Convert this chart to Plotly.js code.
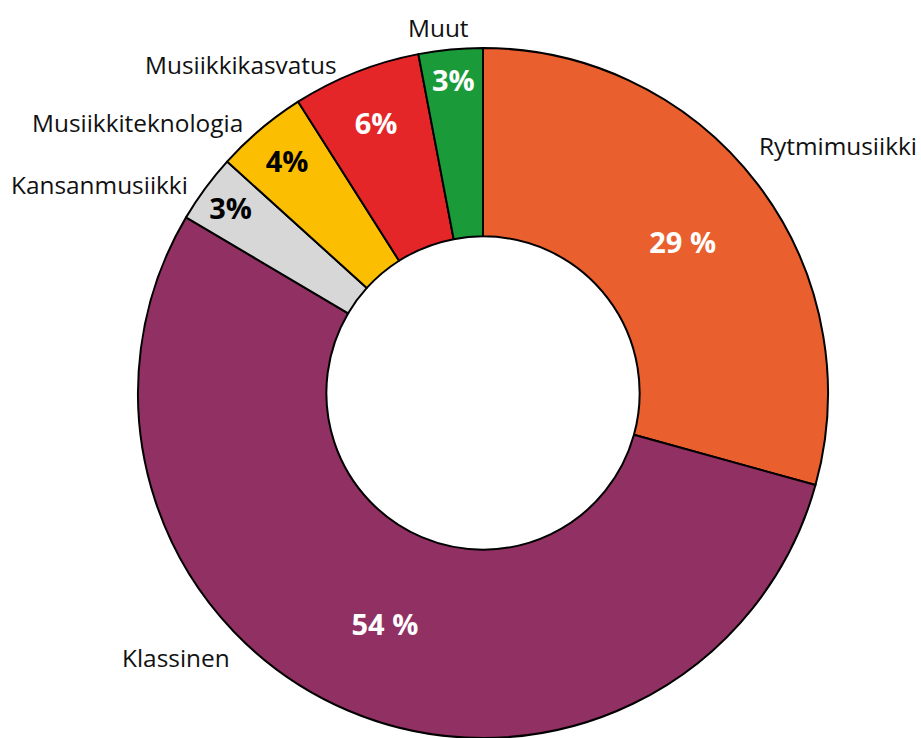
<!DOCTYPE html>
<html>
<head>
<meta charset="utf-8">
<script src="https://cdn.plot.ly/plotly-3.0.1.min.js"></script>
<style>
  html, body { margin: 0; padding: 0; background: #ffffff; }
  #chart { width: 921px; height: 738px; }
</style>
</head>
<body>
<div id="chart"></div>
<script>
// Categories (clockwise from 12 o'clock)
const categories = ["Rytmimusiikki", "Klassinen", "Kansanmusiikki", "Musiikkiteknologia", "Musiikkikasvatus", "Muut"];
// Shares (%)
const shares = [29.3, 54.2, 3.2, 4.3, 6.0, 3.0];
// Printed percentage labels
const percentLabels = ["29 %", "54 %", "3%", "4%", "6%", "3%"];
// Slice colours
const sliceColors = ["#E95F2E", "#913063", "#D7D7D7", "#FCBE00", "#E42629", "#1B9A3A"];
const labelTextColors = ["#ffffff", "#ffffff", "#000000", "#000000", "#ffffff", "#ffffff"];

// Category label placement (pixel centres in the 921x738 page)
const labelX = [838, 175.5, 99, 137.5, 240.5, 438];
const labelY = [145, 657, 184, 122, 65, 27];

const W = 921, H = 738;

const trace = {
  type: "pie",
  labels: categories,
  values: shares,
  text: percentLabels,
  textinfo: "text",
  textposition: "inside",
  insidetextorientation: "horizontal",
  insidetextfont: { family: "Open Sans, sans-serif", size: 29, color: labelTextColors, weight: 700 },
  sort: false,
  direction: "clockwise",
  rotation: 0,
  hole: 0.454,
  marker: { colors: sliceColors, line: { color: "#000000", width: 2 } },
  domain: { x: [(483 - 345) / W, (483 + 345) / W], y: [0, 690 / H] },
  hoverinfo: "none",
  showlegend: false
};

const annotations = categories.map((c, i) => ({
  text: c,
  xref: "paper", yref: "paper",
  x: labelX[i] / W, y: 1 - labelY[i] / H,
  xanchor: "center", yanchor: "middle",
  showarrow: false,
  font: { family: "Open Sans, sans-serif", size: 24.4, color: "#111111" }
}));

const layout = {
  width: W, height: H,
  margin: { l: 0, r: 0, t: 0, b: 0 },
  paper_bgcolor: "#ffffff",
  plot_bgcolor: "#ffffff",
  showlegend: false,
  annotations: annotations
};

Plotly.newPlot("chart", [trace], layout, { displayModeBar: false, staticPlot: true });
</script>
</body>
</html>
